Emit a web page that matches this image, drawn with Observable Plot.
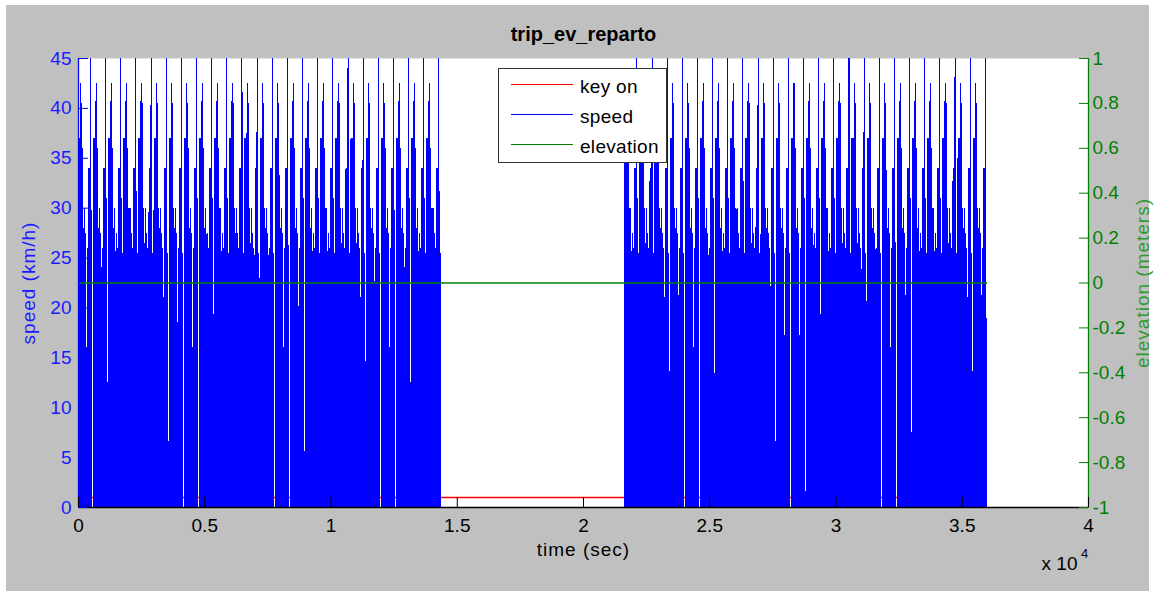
<!DOCTYPE html>
<html>
<head>
<meta charset="utf-8">
<script src="https://cdn.jsdelivr.net/npm/d3@7"></script>
<script src="https://cdn.jsdelivr.net/npm/@observablehq/plot@0.6"></script>
<style>
  body { margin: 0; background: #ffffff; }
  #fig { position: relative; width: 1154px; height: 592px; overflow: hidden; }
  #bg { position: absolute; left: 6px; top: 5px; width: 1143px; height: 586px; background: #c0c0c0; }
  #chart { position: absolute; left: 0; top: 0; }
  #legend { position: absolute; left: 498px; top: 68px; width: 167px; height: 93px; background: #ffffff;
            border: 1px solid #333333; font: 19px "Liberation Sans", Arial, sans-serif; color: #000; }
  #legend .ln { position: absolute; left: 12px; width: 62px; height: 1px; }
  #legend .tx { position: absolute; left: 81px; line-height: 20px; letter-spacing: 0.3px; }
</style>
</head>
<body>
<div id="fig">
  <div id="bg"></div>
  <div id="chart"></div>
  <div id="legend"></div>
</div>
<script>
// ---------------- data ----------------
// one delivery-cycle template of the speed signal (seconds after the 45 km/h peak, km/h)
const cycleOffset = [0, 8, 20, 35, 50, 58, 70, 90, 108, 118, 128, 140, 150, 162, 172, 184, 192, 200, 210, 222, 232, 244, 254, 265, 275, 290, 300, 315, 325, 340, 350, 365, 375, 390, 400, 415, 428, 445, 458, 470, 480, 495, 505, 520, 530, 545, 555, 570, 580, 592];
const cycleSpeed  = [45, 0, 31, 0, 25.5, 0, 0, 0, 0, 37, 0, 37, 0, 37, 0, 37, 0, 40.7, 0, 42.5, 0, 40.5, 0, 36, 0, 30, 0, 28, 0, 26.5, 0, 30, 0, 25.7, 0, 27.5, 0, 16, 0, 26, 0, 21, 0, 34, 0, 34, 0, 34, 0, 33];
// times (s) of the 45 km/h peaks in each driving block
const block1Peaks = [-125, 475, 1075, 1675, 2275, 2875, 3475, 4075, 4675, 5275, 5875, 6475, 7075, 7675, 8275, 8875, 9475, 10075, 10675, 11275, 11875, 12475, 13075, 13675, 14275];
const block2Peaks = [21515, 22115, 22715, 23315, 23915, 24515, 25115, 25715, 26315, 26915, 27515, 28115, 28715, 29315, 29915, 30515, 31115, 31715, 32315, 32915, 33515, 34115, 34715, 35315, 35915];
const blockNames = ["block 1", "block 2"];
const blockStart = [0, 21624];
const blockEnd = [14337, 35960];
// key on signal (plotted on the speed axis)
const keyTime = [0, 35960];
const keyValue = [1, 1];
// elevation (meters, right axis)
const elevTime = [0, 35960];
const elevValue = [0, 0];
// ticks
const speedTicks = [0, 5, 10, 15, 20, 25, 30, 35, 40, 45];
const elevTicks = [-1, -0.8, -0.6, -0.4, -0.2, 0, 0.2, 0.4, 0.6, 0.8, 1];
const timeTicks = [0, 5000, 10000, 15000, 20000, 25000, 30000, 35000, 40000];
const legendNames = ["key on", "speed", "elevation"];
const legendColors = ["#ff0000", "#0000ff", "#008000"];

// ---------------- build tables ----------------
const speedRows = [];
[block1Peaks, block2Peaks].forEach((peaks, b) => {
  peaks.forEach(p => {
    cycleOffset.forEach((o, j) => {
      const t = p + o;
      if (t >= blockStart[b] && t <= blockEnd[b]) speedRows.push({t, v: cycleSpeed[j], block: blockNames[b]});
    });
  });
});
const keyRows = keyTime.map((t, i) => ({t, v: keyValue[i]}));
const elevRows = elevTime.map((t, i) => ({t, e: elevValue[i]}));

const SMAX = 45;
const elevToSpeed = e => (e + 1) / 2 * SMAX;
const speedToElev = s => Math.round((s / SMAX * 2 - 1) * 10) / 10;

const FONT = '"Liberation Sans", Arial, sans-serif';
const GREEN = "#008000";

const chart = Plot.plot({
  width: 1154,
  height: 592,
  marginLeft: 78,
  marginRight: 66,
  marginTop: 58,
  marginBottom: 85,
  style: {background: "transparent", fontFamily: FONT, fontSize: "19px", overflow: "visible", color: "black"},
  x: {domain: [0, 40000], axis: null},
  y: {domain: [0, SMAX], axis: null},
  marks: [
    Plot.frame({fill: "white", stroke: null}),
    Plot.line(keyRows, {x: "t", y: "v", stroke: "#ff0000", strokeWidth: 1.3}),
    Plot.line(speedRows, {x: "t", y: "v", z: "block", stroke: "#0000ff", strokeWidth: 1, shapeRendering: "crispEdges"}),
    Plot.line(elevRows, {x: "t", y: d => elevToSpeed(d.e), stroke: GREEN, strokeWidth: 1.5}),
    // axis lines
    Plot.ruleX([0], {stroke: "#0000ff", strokeWidth: 1.3}),
    Plot.ruleX([40000], {stroke: GREEN, strokeWidth: 1.3}),
    Plot.ruleY([0], {stroke: "#000000", strokeWidth: 1.3}),
    // inward ticks
    Plot.axisY(speedTicks, {anchor: "left", tickSize: 10, dx: 10, stroke: "#0000ff", tickFormat: () => "", label: null}),
    Plot.axisY(elevTicks.map(elevToSpeed), {anchor: "right", tickSize: 10, dx: -10, stroke: GREEN, tickFormat: () => "", label: null}),
    Plot.axisX(timeTicks, {anchor: "bottom", tickSize: 10, dy: -10, stroke: "#000000", tickFormat: () => "", label: null}),
    // tick labels
    Plot.axisY(speedTicks, {anchor: "left", tickSize: 0, tickPadding: 7, color: "#1a1aff", label: null}),
    Plot.axisY(elevTicks.map(elevToSpeed), {anchor: "right", tickSize: 0, tickPadding: 4, color: GREEN, tickFormat: d => String(speedToElev(d)), label: null}),
    Plot.axisX(timeTicks, {anchor: "bottom", tickSize: 0, tickPadding: 11, color: "#000000", tickFormat: d => String(d / 10000), label: null}),
    // titles
    Plot.text(["trip_ev_reparto"], {text: d => d, frameAnchor: "top", dy: -18, lineAnchor: "bottom", fontWeight: "bold", fontSize: 20, fill: "#000"}),
    Plot.text(["speed (km/h)"], {text: d => d, frameAnchor: "left", textAnchor: "middle", dx: -50, rotate: -90, fill: "#1a1aff"}),
    Plot.text(["elevation (meters)"], {text: d => d, frameAnchor: "right", textAnchor: "middle", dx: 54, rotate: -90, fill: "#2f9a2f"}),
    Plot.text(["time (sec)"], {text: d => d, frameAnchor: "bottom", dy: 48, fill: "#000"}),
    Plot.text(["x 10"], {text: d => d, frameAnchor: "bottom-right", textAnchor: "middle", dx: -29, dy: 62, fill: "#000"}),
    Plot.text(["4"], {text: d => d, frameAnchor: "bottom-right", textAnchor: "middle", dx: -4, dy: 50, fontSize: 13, fill: "#000"})
  ]
});
document.getElementById("chart").appendChild(chart);

// slightly wider axis-label lettering, as in the reference
const wide = new Set(["speed (km/h)", "elevation (meters)", "time (sec)"]);
chart.querySelectorAll("text").forEach(el => {
  if (wide.has(el.textContent)) el.style.letterSpacing = "1px";
});

// legend
const legend = document.getElementById("legend");
legendNames.forEach((name, i) => {
  const cy = 15 + 30 * i;
  const ln = document.createElement("div");
  ln.className = "ln";
  ln.style.top = cy + "px";
  ln.style.background = legendColors[i];
  legend.appendChild(ln);
  const tx = document.createElement("div");
  tx.className = "tx";
  tx.style.top = (cy - 7) + "px";
  tx.textContent = name;
  legend.appendChild(tx);
});
</script>
</body>
</html>
